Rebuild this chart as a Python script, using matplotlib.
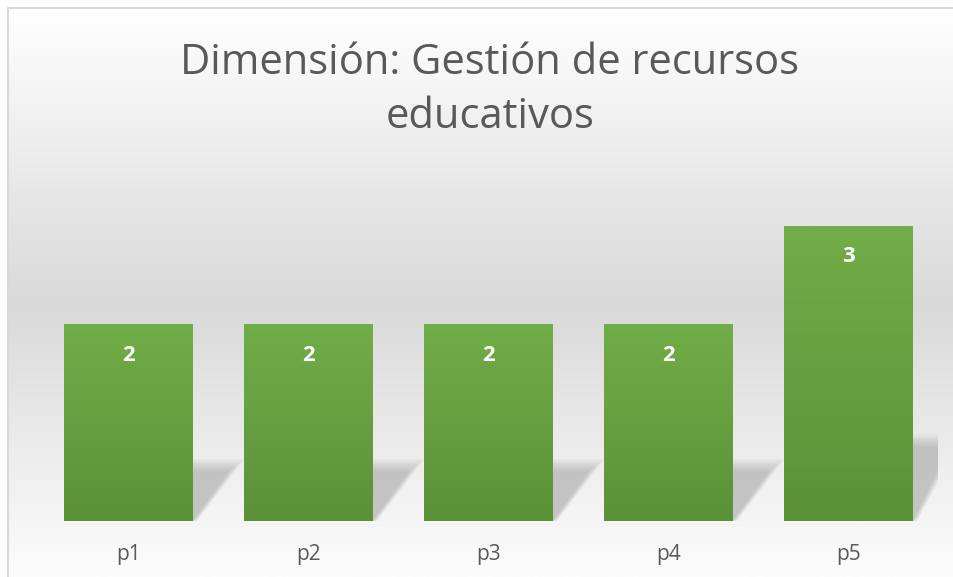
import matplotlib.pyplot as plt
import numpy as np
from matplotlib.colors import LinearSegmentedColormap
from matplotlib.patches import Polygon

categories = ['p1', 'p2', 'p3', 'p4', 'p5']
values = [2, 2, 2, 2, 3]
title = 'Dimensión: Gestión de recursos\neducativos'

plt.rcParams['font.family'] = ['Open Sans', 'DejaVu Sans']

W, H = 954, 577
fig = plt.figure(figsize=(W / 100, H / 100), dpi=100)

# background gradient (white -> grey -> white), inside a light frame
bg = fig.add_axes([0, 0, 1, 1], zorder=-10)
bg.set_xlim(0, W)
bg.set_ylim(H, 0)
bg.axis('off')
bg_cmap = LinearSegmentedColormap.from_list(
    'bg', [(0, '#ffffff'), (0.52, '#d9d9d9'), (0.82, '#efefef'), (1, '#fcfcfc')])
grad = np.linspace(0, 1, 400).reshape(-1, 1)
bg.imshow(grad, cmap=bg_cmap, aspect='auto', extent=[8, W + 5, H, 7])
bg.plot([8.5, 8.5, W + 5], [H + 5, 7.5, 7.5], color='#d9d9d9', lw=1.5)

ax = fig.add_axes([38.5 / W, (H - 520.6) / H, 900 / W, 344 / H])
ax.patch.set_alpha(0)
for s in ax.spines.values():
    s.set_visible(False)

x = np.arange(len(categories))
width = 0.714

# soft cast shadows behind bars
for xi, v in zip(x, values):
    for k in range(8):
        grow = k * 0.012
        sh = 0.25 * v
        pts = [(xi - width / 2 + 0.05, 0), (xi + width / 2 + grow * 0.3, 0),
               (xi + width / 2 + 0.2 + grow, sh + grow * 1.5),
               (xi - width / 2 + 0.25, sh + grow * 1.5)]
        ax.add_patch(Polygon(pts, closed=True, facecolor='#8c8c8c', edgecolor='none',
                             alpha=0.065, zorder=1))

bars = ax.bar(x, values, width=width, color='none', edgecolor='none', zorder=2)
bar_cmap = LinearSegmentedColormap.from_list('bar', ['#5b9138', '#71ad48'])
for b in bars:
    x0, y0 = b.get_x(), b.get_y()
    im = ax.imshow(np.linspace(0, 1, 200).reshape(-1, 1), cmap=bar_cmap, origin='lower',
                   aspect='auto', extent=[x0, x0 + b.get_width(), y0, y0 + b.get_height()],
                   zorder=3)
    im.set_clip_path(b)
ax.set_xlim(-0.5, len(categories) - 0.5)
ax.set_ylim(0, 3.5)

for xi, v in zip(x, values):
    ax.annotate(str(v), (xi, v), xytext=(0, -31), textcoords='offset pixels',
                ha='center', va='center', color='white', fontsize=16,
                fontweight='bold', zorder=4)

ax.set_xticks(x, labels=categories)
ax.set_yticks([])
ax.tick_params(axis='x', length=0, pad=17, labelsize=15, labelcolor='#595959')

fig.text(490 / W, 1 - 90 / H, title, ha='center', va='center', fontsize=30,
         color='#595959', linespacing=1.4)

fig.savefig('out.png', dpi=100)
